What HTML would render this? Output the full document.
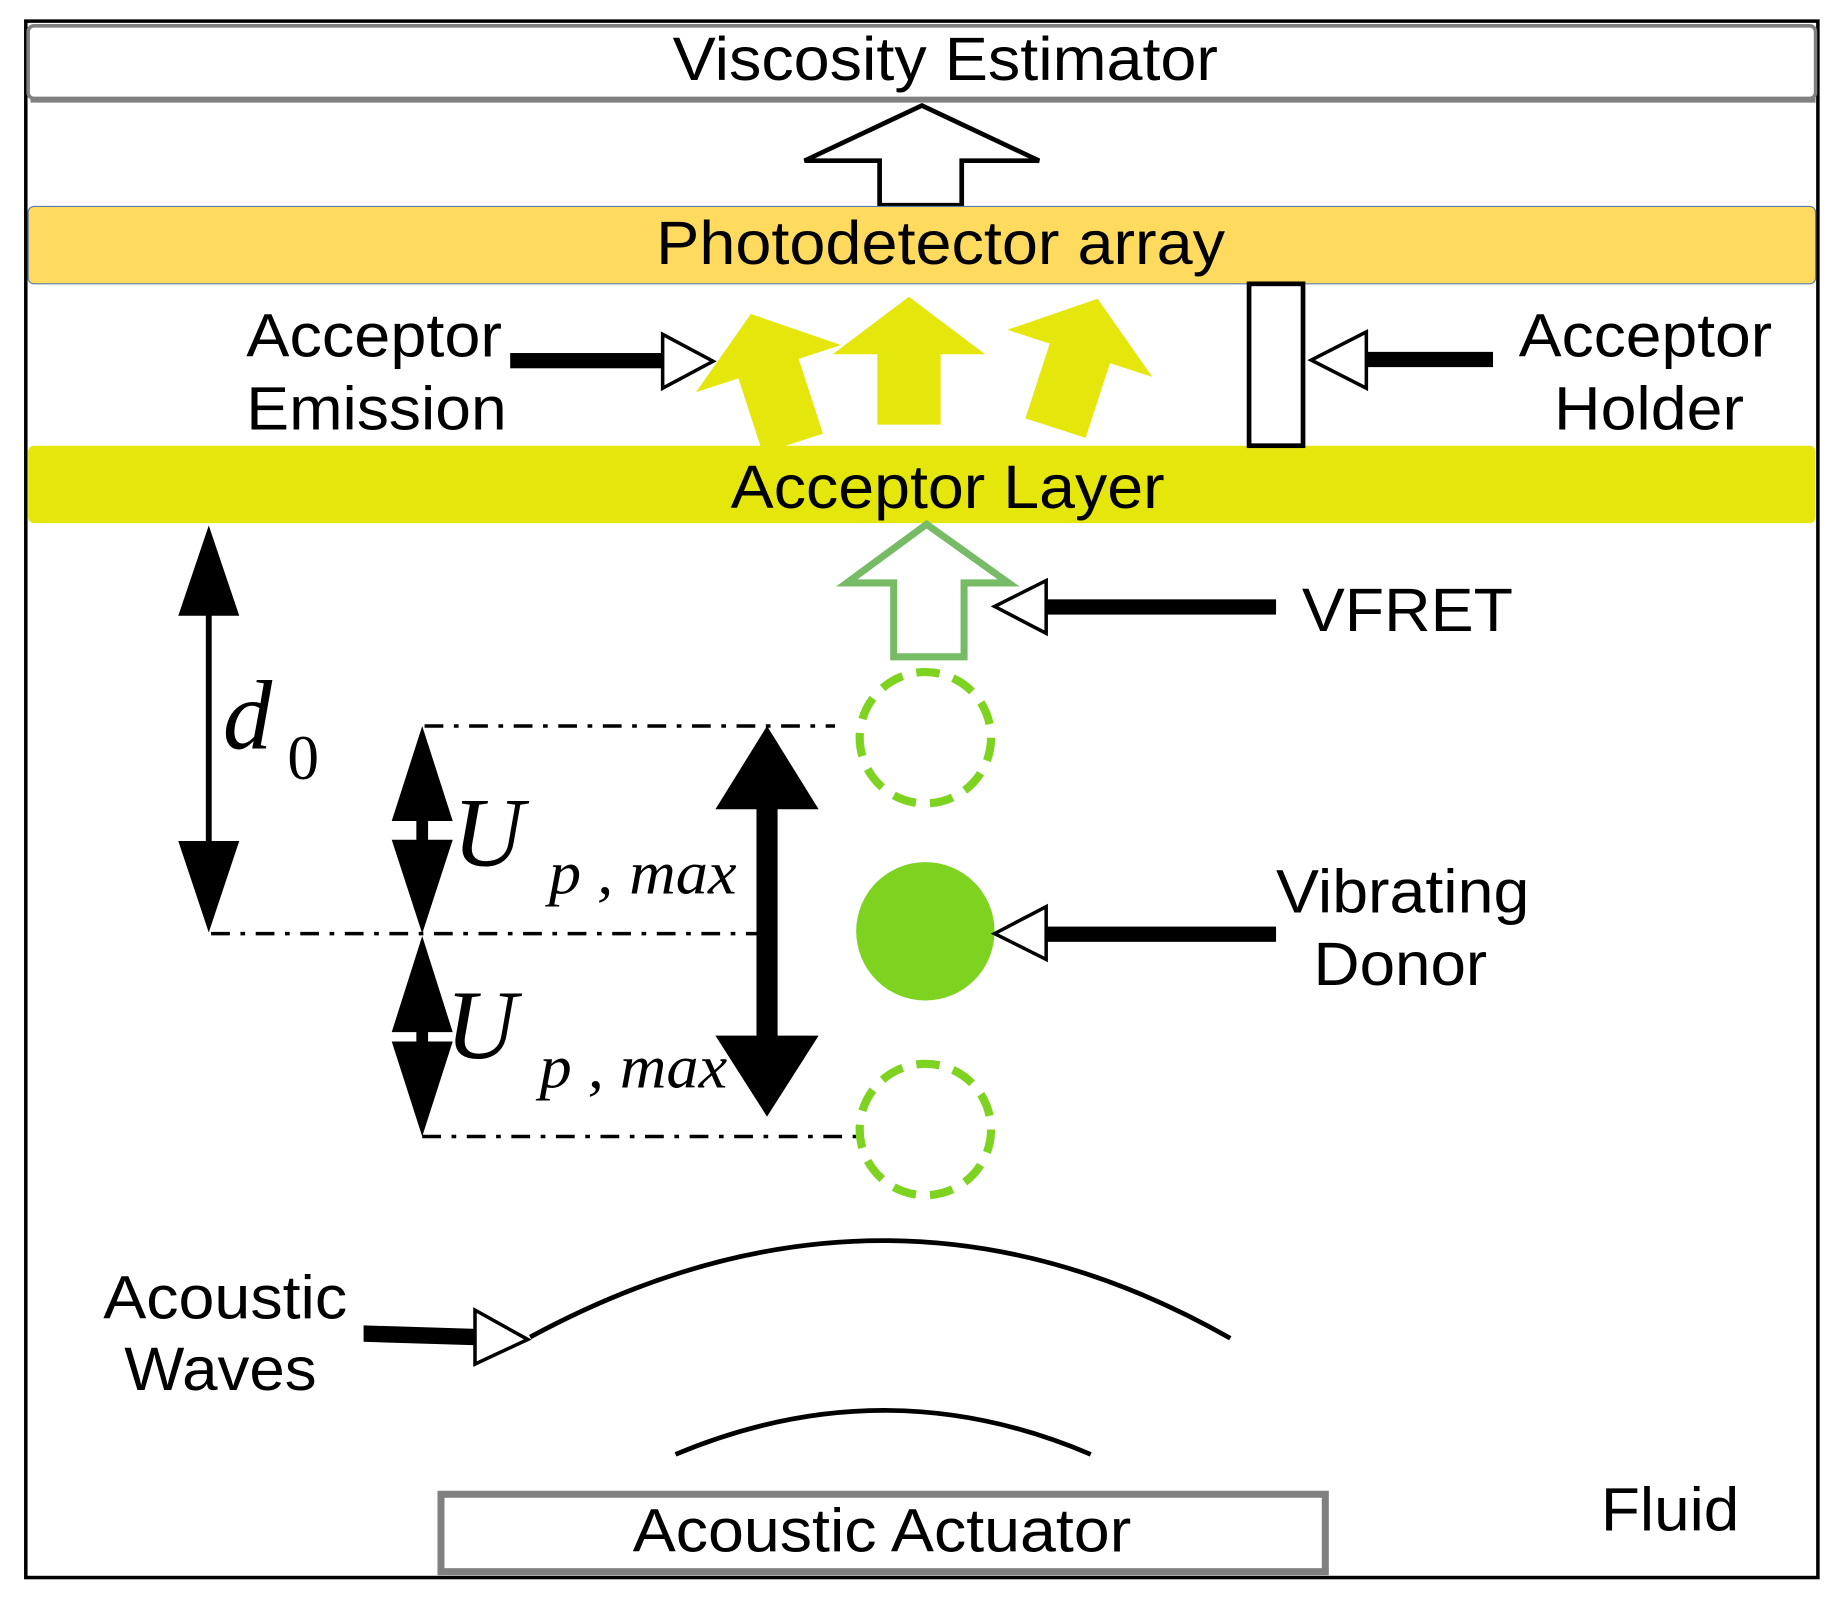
<!DOCTYPE html>
<html><head><meta charset="utf-8"><style>
html,body{margin:0;padding:0;background:#fff;}
svg{display:block;}
text{font-family:"Liberation Sans",sans-serif;fill:#000;}
.it{font-family:"Liberation Serif",serif;font-style:italic;}
</style></head><body>
<svg width="1839" height="1601" viewBox="0 0 1568 1365" preserveAspectRatio="none" xmlns="http://www.w3.org/2000/svg">
<rect x="0" y="0" width="1568" height="1365" fill="#fff"/>
<rect x="22" y="18" width="1528" height="1327" fill="none" stroke="#000" stroke-width="3"/>
<rect x="24" y="22" width="1524" height="62" rx="5" fill="#fff" stroke="#808080" stroke-width="3"/>
<line x1="26" y1="85" x2="1548" y2="85" stroke="#808080" stroke-width="5"/>
<text x="806" y="68" font-size="52" text-anchor="middle" textLength="465" lengthAdjust="spacingAndGlyphs">Viscosity Estimator</text>
<polygon points="786,90 886,137 820,137 820,175 750,175 750,137 686,137" fill="#fff" stroke="#000" stroke-width="4" stroke-linejoin="miter"/>
<rect x="24" y="176" width="1524" height="66" rx="5" fill="#FEDB5E" stroke="#5b7ca8" stroke-width="1"/>
<text x="802" y="225" font-size="52" text-anchor="middle" textLength="485" lengthAdjust="spacingAndGlyphs">Photodetector array</text>
<rect x="24" y="380" width="1524" height="66" rx="5" fill="#E5E60B"/>
<text x="808" y="433" font-size="52" text-anchor="middle" textLength="370" lengthAdjust="spacingAndGlyphs">Acceptor Layer</text>
<rect x="1065" y="242" width="46" height="138" fill="#fff" stroke="#000" stroke-width="4"/>
<polygon points="775,253 840,302 802,302 802,362 748,362 748,302 710,302" fill="#E5E60B"/>
<g transform="rotate(-18 676 378)"><polygon points="676,262 741,311 703,311 703,378 649,378 649,311 611,311" fill="#E5E60B"/></g>
<g transform="rotate(18 900 365)"><polygon points="900,249 965,298 927,298 927,365 873,365 873,298 835,298" fill="#E5E60B"/></g>
<text x="210" y="304" font-size="52" textLength="218" lengthAdjust="spacingAndGlyphs">Acceptor</text>
<text x="210" y="366" font-size="52" textLength="222" lengthAdjust="spacingAndGlyphs">Emission</text>
<rect x="435" y="301" width="132" height="13" fill="#000"/>
<polygon points="565,285 608,308 565,331" fill="#fff" stroke="#000" stroke-width="3"/>
<text x="1403" y="304" font-size="52" text-anchor="middle" textLength="216" lengthAdjust="spacingAndGlyphs">Acceptor</text>
<text x="1406" y="366" font-size="52" text-anchor="middle" textLength="162" lengthAdjust="spacingAndGlyphs">Holder</text>
<rect x="1163" y="300" width="110" height="13" fill="#000"/>
<polygon points="1118,307 1165,283 1165,331" fill="#fff" stroke="#000" stroke-width="3"/>
<polygon points="790,447 860,497 822,497 822,560 762,560 762,497 722,497" fill="#fff" stroke="#77BB66" stroke-width="6"/>
<rect x="890" y="511" width="198" height="13" fill="#000"/>
<polygon points="848,517 892,495 892,540" fill="#fff" stroke="#000" stroke-width="3"/>
<text x="1110" y="538" font-size="52" textLength="180" lengthAdjust="spacingAndGlyphs">VFRET</text>
<line x1="178" y1="520" x2="178" y2="720" stroke="#000" stroke-width="5"/>
<polygon points="178,448 152,525 204,525" fill="#000"/>
<polygon points="178,795 152,717 204,717" fill="#000"/>
<text class="it" x="190" y="638" font-size="84">d</text>
<text class="it" x="245" y="664" font-size="54" style="font-style:normal">0</text>
<g stroke="#000" stroke-width="3" stroke-dasharray="16 9 4 9" fill="none">
<line x1="362" y1="619" x2="712" y2="619"/>
<line x1="180" y1="796" x2="648" y2="796"/>
<line x1="360" y1="969" x2="732" y2="969"/>
</g>
<g fill="#000">
<polygon points="360,619 334,700 386,700"/>
<rect x="355" y="698" width="10" height="20"/>
<polygon points="360,796 334,716 386,716"/>
<polygon points="360,798 334,880 386,880"/>
<rect x="355" y="878" width="10" height="12"/>
<polygon points="360,969 334,888 386,888"/>
</g>
<text class="it" x="386" y="738" font-size="84">U</text>
<text class="it" x="468" y="762" font-size="52" textLength="160" lengthAdjust="spacingAndGlyphs">p , max</text>
<text class="it" x="380" y="902" font-size="84">U</text>
<text class="it" x="460" y="927" font-size="52" textLength="160" lengthAdjust="spacingAndGlyphs">p , max</text>
<rect x="645" y="685" width="18" height="205" fill="#000"/>
<polygon points="654,619 610,690 698,690" fill="#000"/>
<polygon points="654,952 610,883 698,883" fill="#000"/>
<circle cx="789" cy="629" r="56" fill="none" stroke="#7ED321" stroke-width="7" stroke-dasharray="20 12"/>
<circle cx="789" cy="794" r="59" fill="#7ED321"/>
<circle cx="789" cy="963" r="56" fill="none" stroke="#7ED321" stroke-width="7" stroke-dasharray="20 12"/>
<rect x="890" y="790" width="198" height="13" fill="#000"/>
<polygon points="848,796 892,773 892,818" fill="#fff" stroke="#000" stroke-width="3"/>
<text x="1196" y="778" font-size="52" text-anchor="middle" textLength="216" lengthAdjust="spacingAndGlyphs">Vibrating</text>
<text x="1194" y="840" font-size="52" text-anchor="middle" textLength="148" lengthAdjust="spacingAndGlyphs">Donor</text>
<path d="M452,1140 Q757,975 1049,1141" fill="none" stroke="#000" stroke-width="4"/>
<path d="M576,1240 Q755,1165 930,1240" fill="none" stroke="#000" stroke-width="4"/>
<text x="192" y="1124" font-size="52" text-anchor="middle" textLength="208" lengthAdjust="spacingAndGlyphs">Acoustic</text>
<text x="188" y="1185" font-size="52" text-anchor="middle" textLength="164" lengthAdjust="spacingAndGlyphs">Waves</text>
<polygon points="310,1130 406,1133 406,1147 310,1144" fill="#000"/>
<polygon points="450,1142 405,1117 405,1163" fill="#fff" stroke="#000" stroke-width="3"/>
<rect x="376" y="1274" width="754" height="66" fill="#fff" stroke="#808080" stroke-width="6"/>
<text x="752" y="1323" font-size="52" text-anchor="middle" textLength="425" lengthAdjust="spacingAndGlyphs">Acoustic Actuator</text>
<text x="1424" y="1305" font-size="52" text-anchor="middle" textLength="118" lengthAdjust="spacingAndGlyphs">Fluid</text>
</svg>
</body></html>
